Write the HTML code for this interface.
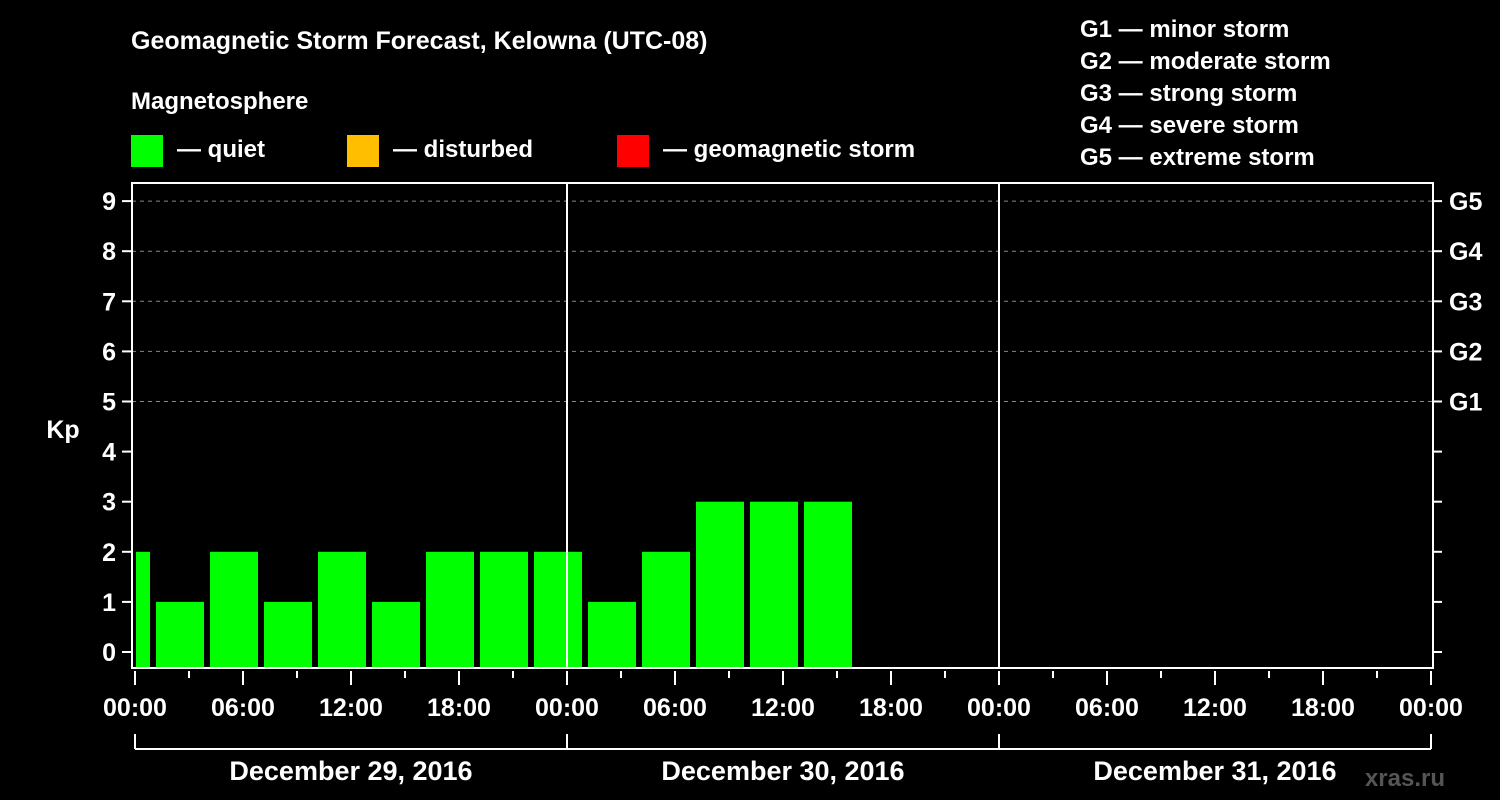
<!DOCTYPE html>
<html><head><meta charset="utf-8"><style>
body{margin:0;background:#000;}
svg{display:block;font-family:"Liberation Sans",Arial,sans-serif;font-weight:bold;}
</style></head><body>
<svg id="chart" width="1500" height="800">
<rect width="1500" height="800" fill="#000"/>
<text x="131" y="49" fill="#fff" font-size="25">Geomagnetic Storm Forecast, Kelowna (UTC-08)</text>
<text x="131" y="109" fill="#fff" font-size="24">Magnetosphere</text>
<g><rect x="131" y="135" width="32" height="32" fill="#00ff00"/><text x="177" y="157" fill="#fff" font-size="24">— quiet</text></g>
<g><rect x="347" y="135" width="32" height="32" fill="#ffbf00"/><text x="393" y="157" fill="#fff" font-size="24">— disturbed</text></g>
<g><rect x="617" y="135" width="32" height="32" fill="#ff0000"/><text x="663" y="157" fill="#fff" font-size="24">— geomagnetic storm</text></g>
<g fill="#fff" font-size="24">
<text x="1080" y="37">G1 — minor storm</text>
<text x="1080" y="69">G2 — moderate storm</text>
<text x="1080" y="101">G3 — strong storm</text>
<text x="1080" y="133">G4 — severe storm</text>
<text x="1080" y="165">G5 — extreme storm</text>
</g>
<text x="63" y="438" fill="#fff" font-size="25" text-anchor="middle">Kp</text>
<text x="1445" y="786" fill="#555" font-size="24" text-anchor="end">xras.ru</text>
<g id="g"></g>
</svg>
<script>
const kpValues=[2,1,2,1,2,1,2,2,2,1,2,3,3,3];
const yTicks=[0,1,2,3,4,5,6,7,8,9];
const gLabels=["G1","G2","G3","G4","G5"];
const hourLabels=["00:00","06:00","12:00","18:00","00:00","06:00","12:00","18:00","00:00","06:00","12:00","18:00","00:00"];
const dateLabels=["December 29, 2016","December 30, 2016","December 31, 2016"];
const firstBarStartHour=-2;
const NS="http://www.w3.org/2000/svg";
const g=document.getElementById('g');
const L=132,R=1433,T=183,B=668,X0=135,PXH=18;
const x=h=>X0+h*PXH;
const y=v=>652-v*50.1;
function mk(t,a){const e=document.createElementNS(NS,t);for(const k in a)e.setAttribute(k,a[k]);g.appendChild(e);return e;}
// grid
yTicks.forEach(v=>{
 if(v>=5){const l=mk('line',{x1:L,x2:R,y1:y(v),y2:y(v),stroke:'#888','stroke-dasharray':'4,4'});
 
 }
 const t=mk('line',{x1:L-10,x2:L,y1:y(v),y2:y(v),stroke:'#fff','stroke-width':2});
 
 
 const t2=mk('line',{x1:R,x2:R+9,y1:y(v),y2:y(v),stroke:'#fff','stroke-width':2});
 
 
 const tx=mk('text',{x:L-16,y:y(v)+9,fill:'#fff','font-size':25,'text-anchor':'end'});tx.textContent=v;
 
 
});
gLabels.forEach((s,i)=>{const tx=mk('text',{x:1449,y:y(5+i)+9,fill:'#fff','font-size':25});tx.textContent=s;
 
 });
// bars
kpValues.forEach((v,i)=>{
 let s=x(firstBarStartHour+3*i)+3,e=x(firstBarStartHour+3*i+3)-3;
 if(s<L+4)s=L+4;
 const r=mk('rect',{x:s,y:y(v),width:e-s,height:B-1-y(v),fill:'#00ff00'});
 
 
});
// day separators
[24,48].forEach(h=>{const l=mk('line',{x1:x(h),x2:x(h),y1:T,y2:B,stroke:'#fff','stroke-width':2});
 
 });
// frame
const f=mk('rect',{x:L,y:T,width:R-L,height:B-T,fill:'none',stroke:'#fff','stroke-width':2});


// x ticks
for(let h=0;h<=72;h+=3){
 const major=h%6==0;
 const l=mk('line',{x1:x(h),x2:x(h),y1:671,y2:major?685:678,stroke:'#fff','stroke-width':2});
 
 
}
hourLabels.forEach((s,i)=>{const tx=mk('text',{x:x(i*6),y:716,fill:'#fff','font-size':25,'text-anchor':'middle'});tx.textContent=s;
 
 });
// date bracket
const bl=mk('line',{x1:x(0),x2:x(72),y1:749,y2:749,stroke:'#fff','stroke-width':2});


[0,24,48,72].forEach(h=>{const l=mk('line',{x1:x(h),x2:x(h),y1:734,y2:749,stroke:'#fff','stroke-width':2});
 
 });
dateLabels.forEach((s,i)=>{const tx=mk('text',{x:x(i*24+12),y:780,fill:'#fff','font-size':27,'text-anchor':'middle'});tx.textContent=s;
 
 });
</script>
</body></html>
